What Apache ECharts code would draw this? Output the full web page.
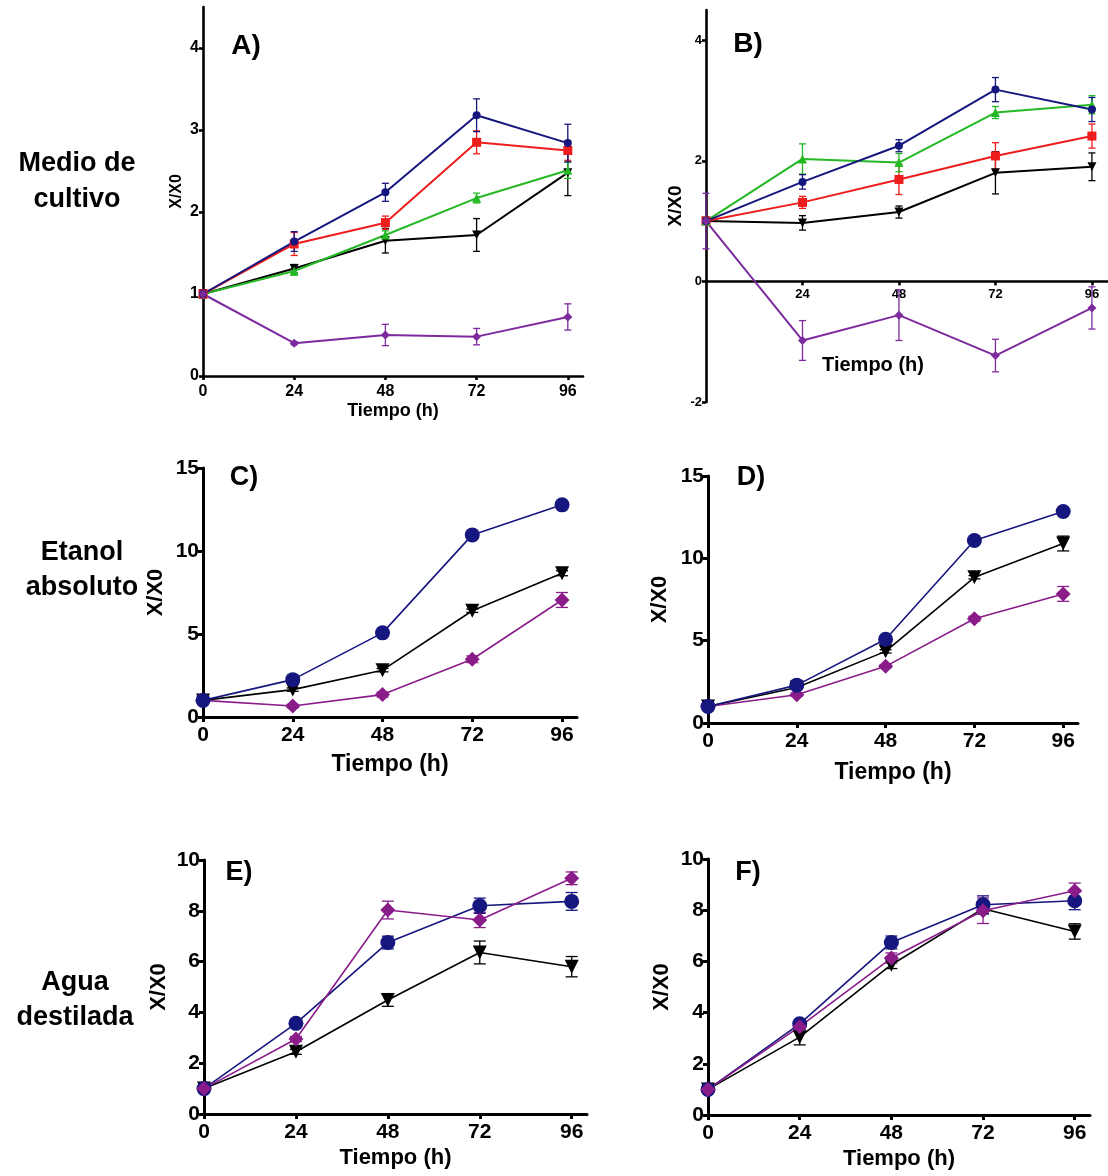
<!DOCTYPE html>
<html>
<head>
<meta charset="utf-8">
<script src="https://cdn.jsdelivr.net/npm/echarts@6/dist/echarts.min.js"></script>
<style>
  html, body { margin: 0; padding: 0; background: #fff; }
  #main { width: 1108px; height: 1176px; }
</style>
</head>
<body>
<div id="main"></div>
<script>
// time points (h)
var hours = [0, 24, 48, 72, 96];

// A) Medio de cultivo, panel 1
var aBlue = [1, 1.64, 2.24, 3.18, 2.84];     var aBlueSd = [0.05, 0.12, 0.11, 0.2, 0.23];
var aRed = [1, 1.61, 1.87, 2.85, 2.75];      var aRedSd = [0.05, 0.14, 0.08, 0.14, 0.12];
var aGreen = [1, 1.28, 1.72, 2.17, 2.51];    var aGreenSd = [0.05, 0.05, 0.05, 0.06, 0.1];
var aBlack = [1, 1.31, 1.65, 1.72, 2.48];    var aBlackSd = [0.05, 0.05, 0.15, 0.2, 0.28];
var aPurple = [1, 0.40, 0.50, 0.48, 0.72];   var aPurpleSd = [0.05, 0.02, 0.13, 0.1, 0.16];

// B) Medio de cultivo, panel 2
var bBlue = [1, 1.65, 2.25, 3.18, 2.85];     var bBlueSd = [0.05, 0.12, 0.1, 0.2, 0.2];
var bRed = [1, 1.31, 1.69, 2.08, 2.41];      var bRedSd = [0.05, 0.1, 0.25, 0.22, 0.2];
var bGreen = [1, 2.03, 1.97, 2.8, 2.93];     var bGreenSd = [0.05, 0.25, 0.15, 0.1, 0.15];
var bBlack = [1, 0.97, 1.15, 1.8, 1.9];      var bBlackSd = [0.05, 0.12, 0.1, 0.35, 0.23];
var bPurple = [1, -0.98, -0.56, -1.23, -0.44]; var bPurpleSd = [0.46, 0.33, 0.42, 0.27, 0.35];

// C) Etanol absoluto, panel 1
var cBlue = [1, 2.25, 5.07, 10.97, 12.78];   var cBlueSd = [0.1, 0.1, 0.1, 0.1, 0.1];
var cBlack = [1, 1.65, 2.82, 6.4, 8.66];     var cBlackSd = [0.1, 0.1, 0.1, 0.1, 0.15];
var cPurple = [1, 0.66, 1.35, 3.48, 7.05];   var cPurpleSd = [0.1, 0.1, 0.15, 0.2, 0.45];

// D) Etanol absoluto, panel 2
var dBlue = [1, 2.3, 5.09, 11.08, 12.84];    var dBlueSd = [0.1, 0.1, 0.1, 0.1, 0.1];
var dBlack = [1, 2.16, 4.35, 8.85, 10.9];    var dBlackSd = [0.1, 0.1, 0.1, 0.1, 0.45];
var dPurple = [1, 1.72, 3.44, 6.33, 7.84];   var dPurpleSd = [0.1, 0.1, 0.1, 0.15, 0.45];

// E) Agua destilada, panel 1
var eBlue = [1, 3.57, 6.75, 8.2, 8.37];      var eBlueSd = [0.05, 0.1, 0.25, 0.3, 0.35];
var eBlack = [1, 2.45, 4.49, 6.36, 5.8];     var eBlackSd = [0.05, 0.1, 0.25, 0.45, 0.4];
var ePurple = [1, 2.95, 8.03, 7.64, 9.28];   var ePurpleSd = [0.05, 0.1, 0.35, 0.3, 0.25];

// F) Agua destilada, panel 2
var fBlue = [1, 3.56, 6.74, 8.21, 8.37];     var fBlueSd = [0.05, 0.1, 0.25, 0.35, 0.35];
var fBlack = [1, 3.04, 5.87, 8.06, 7.17];    var fBlackSd = [0.05, 0.3, 0.15, 0.2, 0.3];
var fPurple = [1, 3.45, 6.13, 7.98, 8.76];   var fPurpleSd = [0.05, 0.1, 0.2, 0.5, 0.3];

var xTicks = [0, 24, 48, 72, 96];
var xTicksB = [24, 48, 72, 96];
var yTicksA = [0, 1, 2, 3, 4];
var yTicksB = [-2, 0, 2, 4];
var yTicksCD = [0, 5, 10, 15];
var yTicksEF = [0, 2, 4, 6, 8, 10];

var rowLabels = [['Medio de', 'cultivo'], ['Etanol', 'absoluto'], ['Agua', 'destilada']];

var FONT = '"Liberation Sans", Arial, sans-serif';
var NAVY = '#16167f', RED = '#ee1d1d', GREEN = '#25b825', BLACK = '#000000';
var PURPLE1 = '#7d2a9e', PURPLE2 = '#8a1c8a';

function line(vals, sd, color, symbol, rotate) {
  return { vals: vals, sd: sd, color: color, symbol: symbol, rotate: rotate || 0 };
}

var panels = [
  { label: 'A)', lx: 246, ly: 46, grid: { left: 203, top: 7, width: 380, height: 369 },
    yMin: 0, yMax: 4.5, yTicks: yTicksA, xLabels: xTicks, small: true,
    tick: 16, yName: 16, yGap: 18, xName: 18, xGap: 26, labelSize: 28,
    lines: [line(aBlack, aBlackSd, BLACK, 'triangle', 180), line(aGreen, aGreenSd, GREEN, 'triangle'),
            line(aRed, aRedSd, RED, 'rect'), line(aBlue, aBlueSd, NAVY, 'circle'),
            line(aPurple, aPurpleSd, PURPLE1, 'diamond')] },
  { label: 'B)', lx: 748, ly: 44, grid: { left: 706, top: 10, width: 406, height: 392 },
    yMin: -2, yMax: 4.5, yTicks: yTicksB, xLabels: xTicksB, small: true,
    tick: 13, yName: 19, yGap: 21, xName: 0, xGap: 0, labelSize: 28,
    lines: [line(bBlack, bBlackSd, BLACK, 'triangle', 180), line(bRed, bRedSd, RED, 'rect'),
            line(bGreen, bGreenSd, GREEN, 'triangle'), line(bBlue, bBlueSd, NAVY, 'circle'),
            line(bPurple, bPurpleSd, PURPLE1, 'diamond')] },
  { label: 'C)', lx: 244, ly: 478, grid: { left: 203, top: 468, width: 374, height: 249 },
    yMin: 0, yMax: 15, yTicks: yTicksCD, xLabels: xTicks, small: false,
    tick: 21, yName: 22, yGap: 36, xName: 23, xGap: 36, labelSize: 27,
    lines: [line(cBlack, cBlackSd, BLACK, 'triangle', 180), line(cPurple, cPurpleSd, PURPLE2, 'diamond'),
            line(cBlue, cBlueSd, NAVY, 'circle')] },
  { label: 'D)', lx: 751, ly: 478, grid: { left: 708, top: 476, width: 370, height: 247 },
    yMin: 0, yMax: 15, yTicks: yTicksCD, xLabels: xTicks, small: false,
    tick: 21, yName: 22, yGap: 37, xName: 23, xGap: 38, labelSize: 27,
    lines: [line(dBlack, dBlackSd, BLACK, 'triangle', 180), line(dPurple, dPurpleSd, PURPLE2, 'diamond'),
            line(dBlue, dBlueSd, NAVY, 'circle')] },
  { label: 'E)', lx: 239, ly: 873, grid: { left: 204, top: 860, width: 383, height: 254 },
    yMin: 0, yMax: 10, yTicks: yTicksEF, xLabels: xTicks, small: false,
    tick: 21, yName: 22, yGap: 34, xName: 22, xGap: 33, labelSize: 27,
    lines: [line(eBlack, eBlackSd, BLACK, 'triangle', 180), line(eBlue, eBlueSd, NAVY, 'circle'),
            line(ePurple, ePurpleSd, PURPLE2, 'diamond')] },
  { label: 'F)', lx: 748, ly: 873, grid: { left: 708, top: 859, width: 382, height: 256 },
    yMin: 0, yMax: 10, yTicks: yTicksEF, xLabels: xTicks, small: false,
    tick: 21, yName: 22, yGap: 35, xName: 22, xGap: 33, labelSize: 27,
    lines: [line(fBlack, fBlackSd, BLACK, 'triangle', 180), line(fBlue, fBlueSd, NAVY, 'circle'),
            line(fPurple, fPurpleSd, PURPLE2, 'diamond')] }
];

function errorBars(cap) {
  return function (params, api) {
    var x = api.value(0), y = api.value(1), e = api.value(2);
    var hi = api.coord([x, y + e]);
    var lo = api.coord([x, y - e]);
    var st = { stroke: api.visual('color'), lineWidth: 1.3 };
    return {
      type: 'group',
      children: [
        { type: 'line', shape: { x1: hi[0], y1: hi[1], x2: lo[0], y2: lo[1] }, style: st },
        { type: 'line', shape: { x1: hi[0] - cap, y1: hi[1], x2: hi[0] + cap, y2: hi[1] }, style: st },
        { type: 'line', shape: { x1: lo[0] - cap, y1: lo[1], x2: lo[0] + cap, y2: lo[1] }, style: st }
      ]
    };
  };
}

var grids = [], xAxes = [], yAxes = [], series = [], graphics = [];

panels.forEach(function (p, i) {
  grids.push(p.grid);
  var axisW = p.small ? 2.6 : 3;
  // panel B: the time axis crosses the y axis at 0, not at the bottom
  var zeroShift = p.yMin < 0 ? -(-p.yMin) / (p.yMax - p.yMin) * p.grid.height : 0;
  xAxes.push({
    type: 'value', gridIndex: i, min: 0, max: 100, offset: zeroShift,
    name: p.xName ? 'Tiempo (h)' : '', nameLocation: 'middle', nameGap: p.xGap,
    nameTextStyle: { fontFamily: FONT, fontWeight: 'bold', fontSize: p.xName, color: '#000' },
    axisLine: { onZero: false, lineStyle: { color: '#000', width: axisW } },
    axisTick: { show: true, length: p.small ? 4 : 5, customValues: p.xLabels, lineStyle: { width: axisW } },
    axisLabel: { customValues: p.xLabels, margin: i === 1 ? 7 : 8, fontFamily: FONT,
                 fontWeight: 'bold', fontSize: p.tick, color: '#000' },
    splitLine: { show: false }
  });
  yAxes.push({
    type: 'value', gridIndex: i, min: p.yMin, max: p.yMax,
    name: 'X/X0', nameLocation: 'middle', nameGap: p.yGap,
    nameTextStyle: { fontFamily: FONT, fontWeight: 'bold', fontSize: p.yName, color: '#000' },
    axisLine: { show: true, onZero: false, lineStyle: { color: '#000', width: axisW } },
    axisTick: { show: true, length: p.small ? 4 : 5, customValues: p.yTicks, lineStyle: { width: axisW } },
    axisLabel: { customValues: p.yTicks, margin: 4, fontFamily: FONT, fontWeight: 'bold',
                 fontSize: p.tick, color: '#000' },
    splitLine: { show: false }
  });

  p.lines.forEach(function (ln) {
    var pts = hours.map(function (h, k) { return [h, ln.vals[k]]; });
    var errs = hours.map(function (h, k) { return [h, ln.vals[k], ln.sd[k]]; });
    series.push({
      type: 'custom', xAxisIndex: i, yAxisIndex: i, z: 2,
      renderItem: errorBars(p.small ? 3.5 : 6),
      itemStyle: { color: ln.color, opacity: p.small ? 0.55 : 0.9 },
      encode: { x: 0, y: 1 },
      data: errs, silent: true
    });
    series.push({
      type: 'line', xAxisIndex: i, yAxisIndex: i, z: 3,
      data: pts, symbol: ln.symbol, symbolRotate: ln.rotate,
      symbolSize: p.small ? (ln.symbol === 'circle' ? 8 : 9) : (ln.symbol === 'triangle' ? 14 : 15),
      lineStyle: { color: ln.color, width: p.small ? 2 : 1.6 },
      itemStyle: { color: ln.color },
      animation: false, silent: true
    });
  });

  graphics.push({
    type: 'text', x: p.lx, y: p.ly,
    style: { text: p.label, fontFamily: FONT, fontWeight: 'bold', fontSize: p.labelSize,
             fill: '#000', align: 'center', verticalAlign: 'middle' }
  });
});

// B) has its axis title floating inside the plot area
graphics.push({
  type: 'text', x: 873, y: 365,
  style: { text: 'Tiempo (h)', fontFamily: FONT, fontWeight: 'bold', fontSize: 20,
           fill: '#000', align: 'center', verticalAlign: 'middle' }
});

// row labels on the left
var rowPos = [[77, 164, 200], [82, 553, 588], [75, 983, 1018]];
rowLabels.forEach(function (r, k) {
  r.forEach(function (t, j) {
    graphics.push({
      type: 'text', x: rowPos[k][0], y: rowPos[k][1 + j],
      style: { text: t, fontFamily: FONT, fontWeight: 'bold', fontSize: 27,
               fill: '#000', align: 'center', verticalAlign: 'middle' }
    });
  });
});

var chart = echarts.init(document.getElementById('main'));
chart.setOption({
  animation: false,
  backgroundColor: '#fff',
  grid: grids,
  xAxis: xAxes,
  yAxis: yAxes,
  series: series,
  graphic: graphics
});
</script>
</body>
</html>
